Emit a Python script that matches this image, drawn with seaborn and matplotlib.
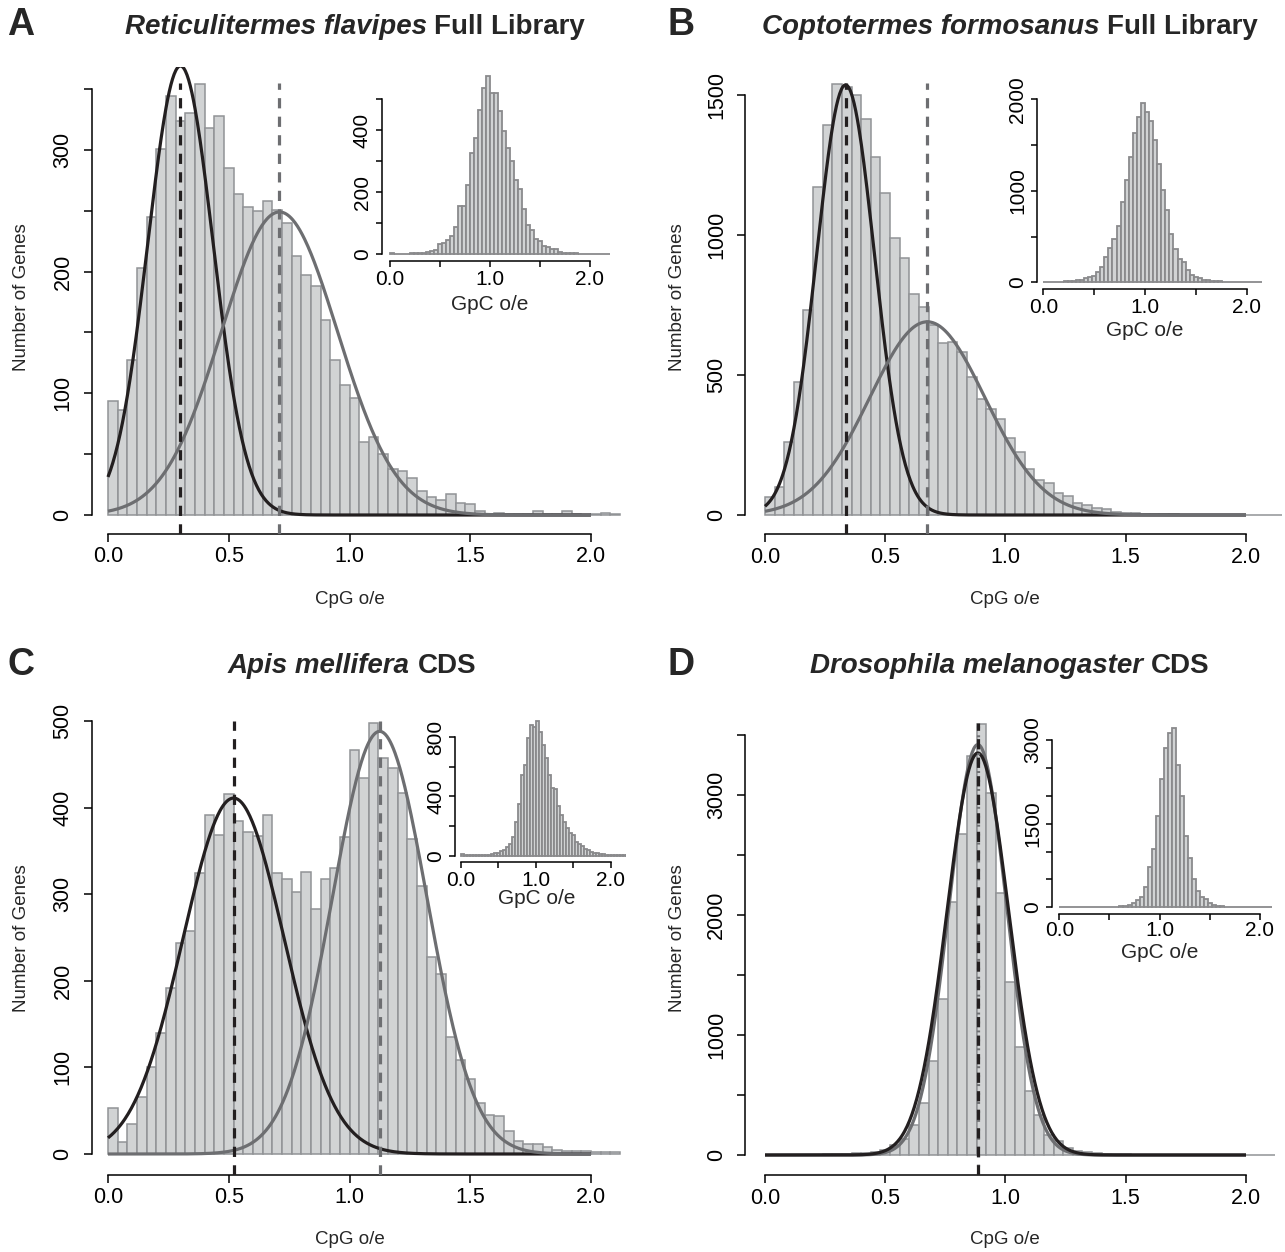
import numpy as np
import pandas as pd
import matplotlib
matplotlib.use("Agg")
import matplotlib.pyplot as plt
import seaborn as sns

sns.set_theme(style="ticks")
plt.rcParams['font.family'] = ['Liberation Sans', 'DejaVu Sans']

# ---------------- data (bin counts, bins of 0.04 starting at 0) ----------------
BIN = 0.04

A_cpg = [94, 86, 127, 203, 245, 301, 344, 324, 330, 354, 318, 328, 285, 264, 253, 250, 258, 251, 240, 213,
         197, 188, 160, 127, 107, 96, 60, 64, 50, 38, 36, 30, 20, 15, 12, 17, 10, 9,
         3, 1, 2, 1, 1, 1, 3, 1, 1, 3, 1, 0, 1, 2, 1]
A_gpc = [3, 1, 1, 1, 2, 3, 3, 5, 5, 9, 12, 13,
         32, 37, 45, 60, 88, 155, 155, 222, 326, 376, 465, 538, 575, 519, 519, 462, 398, 342, 301, 239,
         210, 145, 95, 78, 48, 42, 27, 25, 16, 16, 9, 5,
         4, 3, 3, 2, 2, 2, 1, 2, 1, 1, 1]

B_cpg = [65, 99, 262, 474, 732, 1170, 1393, 1539, 1530, 1500, 1413, 1280, 1151, 988, 917, 788, 744, 679,
         613, 619, 583, 492, 414, 377, 342, 274, 226, 163, 125, 113, 77, 68, 42, 36, 24, 20,
         12, 8, 6, 4, 3, 2, 2, 1, 1, 1, 1, 1, 0, 0, 1, 0, 0, 0]
B_gpc = [5, 3, 3, 5, 8, 10, 12, 15, 20, 30,
         44, 55, 69, 109, 171, 273, 372, 474, 619, 882, 1118, 1373, 1636, 1803, 1964, 1865, 1763, 1556,
         1293, 1009, 790, 528, 364, 255, 222, 135, 80, 62, 44, 26, 22,
         15, 12, 10, 8, 6, 5, 4, 3, 3, 2, 2, 2, 1, 1]

C_cpg = [53, 14, 35, 66, 100, 140, 192, 244, 257, 324, 391, 368, 416, 385, 372, 367, 392, 325, 318, 302,
         326, 283, 318, 330, 366, 466, 434, 498, 457, 446, 417, 364, 309, 228, 208, 135, 109, 87, 59,
         45, 44, 26, 15, 12, 12, 8, 5, 3, 3, 3, 2, 2, 2]
C_gpc = [11, 6, 5, 4, 3, 3, 4, 5, 6, 8, 10, 15,
         20, 30, 38, 60, 79, 128, 229, 348, 544, 611, 791, 881, 865, 910,
         836, 746, 656, 544, 454, 447, 335, 274, 229, 184, 151, 139, 94, 79, 67, 43, 38, 27, 20, 16,
         11, 10, 8, 6, 5, 5, 4, 4, 3, 3]

D_cpg = [1, 1, 1, 2, 2, 3, 5, 8, 10, 15, 18, 25, 40,
         83, 130, 250, 430, 786, 1297, 2106, 2672, 3325, 3590,
         3014, 2181, 1444, 897, 533, 333, 167, 119, 56, 36, 28,
         20, 12, 8, 5, 4, 3, 2, 2, 1, 1, 1, 1, 1, 0, 0, 0, 0, 0, 0]
D_gpc = [3, 2, 2, 2, 3, 3, 3, 4, 4, 5, 5, 6, 8, 8,
         10, 15, 24, 42, 84, 131, 191, 359, 717, 1040, 1638, 2307, 2851, 3120, 3210, 2552, 1996, 1279,
         879, 502, 299, 191, 143, 72, 42, 24, 15,
         10, 8, 6, 5, 4, 3, 3, 2, 2, 2, 1, 1, 1]

# fitted normal components: (mean, sd, peak height)
A_fit_black = (0.30, 0.135, 369)
A_fit_gray = (0.71, 0.24, 249)
B_fit_black = (0.335, 0.12, 1536)
B_fit_gray = (0.675, 0.24, 690)
C_fit_black = (0.52, 0.209, 411)
C_fit_gray = (1.125, 0.196, 488)
D_fit_black = (0.885, 0.128, 3350)
D_fit_gray = (0.885, 0.12, 3420)

titles = {
    "A": ("Reticulitermes flavipes", "Full Library"),
    "B": ("Coptotermes formosanus", "Full Library"),
    "C": ("Apis mellifera", "CDS"),
    "D": ("Drosophila melanogaster", "CDS"),
}

x_ticks = [0.0, 0.5, 1.0, 1.5, 2.0]
x_ticklabels = ["0.0", "0.5", "1.0", "1.5", "2.0"]
inset_x_labels = ["0.0", "", "1.0", "", "2.0"]

A_yticks = [0, 50, 100, 150, 200, 250, 300, 350]
A_ylabels = ["0", "", "100", "", "200", "", "300", ""]
B_yticks = [0, 500, 1000, 1500]
B_ylabels = ["0", "500", "1000", "1500"]
C_yticks = [0, 100, 200, 300, 400, 500]
C_ylabels = ["0", "100", "200", "300", "400", "500"]
D_yticks = [0, 500, 1000, 1500, 2000, 2500, 3000, 3500]
D_ylabels = ["0", "", "1000", "", "2000", "", "3000", ""]

Ai_yticks = [0, 100, 200, 300, 400, 500]
Ai_ylabels = ["0", "", "200", "", "400", ""]
Bi_yticks = [0, 500, 1000, 1500, 2000]
Bi_ylabels = ["0", "", "1000", "", "2000"]
Ci_yticks = [0, 200, 400, 600, 800]
Ci_ylabels = ["0", "", "400", "", "800"]
Di_yticks = [0, 500, 1000, 1500, 2000, 2500, 3000]
Di_ylabels = ["0", "", "", "1500", "", "", "3000"]

# ---------------- styling ----------------
W, H = 1285, 1252
BAR_FILL = "#d1d3d4"
BAR_EDGE = "#919396"
INSET_EDGE = "#8a8a8c"
BLACK = "#231f20"
GRAY = "#6d6e71"

fig = plt.figure(figsize=(W / 100, H / 100), dpi=100)
fig.patch.set_facecolor("white")


def axes_px(x0, sx, xlim, y0, sy, ylim):
    left = x0 + xlim[0] * sx
    right = x0 + xlim[1] * sx
    bottom = y0 - ylim[0] * sy
    top = y0 - ylim[1] * sy
    ax = fig.add_axes([left / W, 1 - bottom / H, (right - left) / W, (bottom - top) / H])
    ax.patch.set_alpha(0)
    return ax


def draw_hist(ax, counts, edge, lw, xlim, ylim):
    edges = [round(i * BIN, 4) for i in range(len(counts) + 1)]
    df = pd.DataFrame({"x": [e + BIN / 2 for e in edges[:-1]], "n": [float(c) for c in counts]})
    sns.histplot(data=df, x="x", weights="n", bins=edges, ax=ax, color=BAR_FILL,
                 edgecolor=edge, linewidth=lw, alpha=1, stat="count", zorder=1)
    ax.set_xlabel("")
    ax.set_ylabel("")
    ax.set_xlim(xlim)
    ax.set_ylim(ylim)


def style_axes(ax, yticks, ylabels, xlabels, fs, tick_len, lw, xpad, ypad):
    for s in ["top", "right"]:
        ax.spines[s].set_visible(False)
    for s in ["left", "bottom"]:
        ax.spines[s].set_color("black")
        ax.spines[s].set_linewidth(lw)
    ax.spines["left"].set_bounds(yticks[0], yticks[-1])
    ax.spines["bottom"].set_bounds(x_ticks[0], x_ticks[-1])
    ax.set_xticks(x_ticks)
    ax.set_xticklabels(xlabels)
    ax.set_yticks(yticks)
    ax.set_yticklabels(ylabels, rotation=90, va="center")
    ax.tick_params(axis="both", direction="out", length=tick_len, width=lw, colors="black",
                   labelsize=fs, bottom=True, left=True)
    ax.tick_params(axis="x", pad=xpad)
    ax.tick_params(axis="y", pad=ypad)


xs = np.linspace(0, 2, 600)


def curve(ax, fit, color, z=3):
    mu, sd, peak = fit
    ax.plot(xs, peak * np.exp(-0.5 * ((xs - mu) / sd) ** 2), color=color, lw=2.3, zorder=z,
            solid_capstyle="butt")


def vline(ax, x, color, ls, z=4):
    ax.axvline(x, ymin=0, ymax=0.965, color=color, lw=2.3, linestyle=ls, zorder=z)


DASH = (0, (3.2, 2.6))
DOT = (0, (0.6, 2.2))

panels = [
    dict(key="A", cpg=A_cpg, gpc=A_gpc, black=A_fit_black, gray=A_fit_gray,
         main=(108, 241.5, (-0.068, 2.15), 515, 1.217, (-15.6, 368.5)),
         ins=(390, 100, (-0.083, 2.2), 254.3, 0.31, (-22.6, 598)),
         yt=(A_yticks, A_ylabels), iyt=(Ai_yticks, Ai_ylabels),
         ylab=(22, 297), xlab=(350, 600), ilab=(490, 305), title=(355, 27), letter=(21, 25)),
    dict(key="B", cpg=B_cpg, gpc=B_gpc, black=B_fit_black, gray=B_fit_gray,
         main=(765, 240.5, (-0.083, 2.15), 515, 0.28, (-68, 1600)),
         ins=(1043.3, 101.7, (-0.065, 2.15), 282.3, 0.0915, (-76, 2043)),
         yt=(B_yticks, B_ylabels), iyt=(Bi_yticks, Bi_ylabels),
         ylab=(677, 297), xlab=(1005, 600), ilab=(1145, 330), title=(1010, 27), letter=(681, 25)),
    dict(key="C", cpg=C_cpg, gpc=C_gpc, black=C_fit_black, gray=C_fit_gray,
         main=(108, 241.5, (-0.068, 2.15), 1154, 0.866, (-24, 519)),
         ins=(460.7, 75, (-0.076, 2.2), 855.7, 0.1483, (-44.5, 946)),
         yt=(C_yticks, C_ylabels), iyt=(Ci_yticks, Ci_ylabels),
         ylab=(22, 938), xlab=(350, 1240), ilab=(537, 899), title=(352, 666), letter=(21, 665)),
    dict(key="D", cpg=D_cpg, gpc=D_gpc, black=D_fit_black, gray=D_fit_gray,
         main=(765, 240.5, (-0.083, 2.15), 1155, 0.12, (-167, 3734)),
         ins=(1059.3, 100.3, (-0.07, 2.12), 907.3, 0.05577, (-125, 3338)),
         yt=(D_yticks, D_ylabels), iyt=(Di_yticks, Di_ylabels),
         ylab=(677, 938), xlab=(1005, 1240), ilab=(1160, 953), title=(1010, 666), letter=(681, 665)),
]

renderer = fig.canvas.get_renderer()

for p in panels:
    ax = axes_px(*p["main"])
    draw_hist(ax, p["cpg"], BAR_EDGE, 1.1, p["main"][2], p["main"][5])
    if p["key"] == "D":
        curve(ax, p["gray"], GRAY, 3)
        curve(ax, p["black"], BLACK, 3)
        vline(ax, p["gray"][0], GRAY, DOT, 4)
        vline(ax, p["black"][0], BLACK, DASH, 5)
    else:
        curve(ax, p["black"], BLACK, 3)
        curve(ax, p["gray"], GRAY, 3)
        vline(ax, p["black"][0], BLACK, DASH, 4)
        vline(ax, p["gray"][0], GRAY, DASH, 4)
    style_axes(ax, p["yt"][0], p["yt"][1], x_ticklabels, 15.5, 6, 1.1, 3, 7)

    iax = axes_px(*p["ins"])
    draw_hist(iax, p["gpc"], INSET_EDGE, 1.3, p["ins"][2], p["ins"][5])
    ipad = 1 if p["key"] == "D" else 2
    style_axes(iax, p["iyt"][0], p["iyt"][1], inset_x_labels, 15, 4, 1.1, ipad, 3)

    fig.text(p["ylab"][0] / W, 1 - p["ylab"][1] / H, "Number of Genes", rotation=90,
             ha="center", va="center", fontsize=13.5)
    fig.text(p["xlab"][0] / W, 1 - p["xlab"][1] / H, "CpG o/e", ha="center", va="center",
             fontsize=13.5)
    fig.text(p["ilab"][0] / W, 1 - p["ilab"][1] / H, "GpC o/e", ha="center", va="center",
             fontsize=15)
    fig.text(p["letter"][0] / W, 1 - p["letter"][1] / H, p["key"], ha="center", va="center",
             fontsize=27, fontweight="bold")

    ital, norm = titles[p["key"]]
    tsize = 20
    t1 = fig.text(0, 0, ital, fontsize=tsize, fontweight="bold", fontstyle="italic",
                  ha="left", va="center")
    t2 = fig.text(0, 0, norm, fontsize=tsize, fontweight="bold", ha="left", va="center")
    w1 = t1.get_window_extent(renderer).width
    w2 = t2.get_window_extent(renderer).width
    gap = 0.278 * tsize * 100 / 72
    xc, yc = p["title"]
    x0 = xc - (w1 + gap + w2) / 2
    t1.set_position((x0 / W, 1 - yc / H))
    t2.set_position(((x0 + w1 + gap) / W, 1 - yc / H))

fig.savefig("out.png", dpi=100, facecolor="white")
